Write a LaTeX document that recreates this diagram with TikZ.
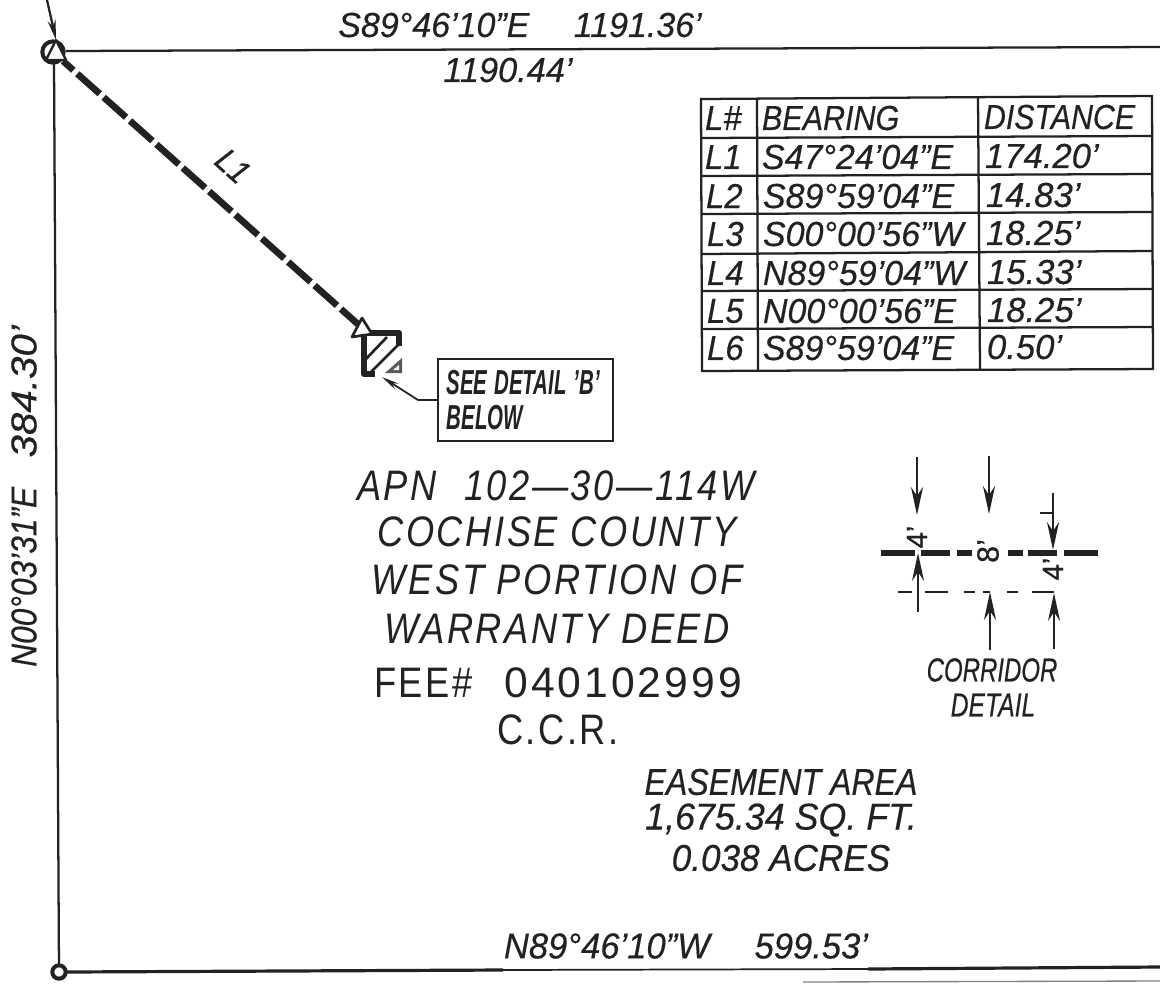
\documentclass[tikz,border=0pt]{standalone}
\usepackage{fontspec}
\setmainfont{Liberation Sans}
\usetikzlibrary{arrows.meta}
\definecolor{ink}{HTML}{222222}
\newcommand{\fs}[1]{\fontsize{#1}{#1}\selectfont}
\newcommand{\sx}[2]{\scalebox{#1}[1]{#2}}
\newcommand{\fb}{\addfontfeature{FakeBold=0.4}}
\tikzset{
  x=.75pt,y=-.75pt,
  txt/.style={inner sep=0pt,outer sep=0pt,text=ink,font=\fs{26}\itshape\fb},
  up/.style={txt,font=\fs{32}\addfontfeature{LetterSpace=7}},
  big/.style={txt,font=\fs{32}\itshape\addfontfeature{LetterSpace=7}},
  cell/.style={txt,anchor=west,font=\fs{26}\itshape\fb},
  thinl/.style={draw=ink,line width=1.7pt},
  rule/.style={draw=ink,line width=1.7pt},
  heavy/.style={draw=ink,line width=5pt,line cap=butt},
  dim/.style={draw=ink,line width=2pt,-{Stealth[length=21pt,width=9pt]}},
  hollow/.style={draw=ink,line width=2pt,fill=white,line join=round},
}
\begin{document}
\begin{tikzpicture}
\useasboundingbox[fill=white] (0,0) rectangle (1160,983);
% boundary
\coordinate (nw) at (53,52);
\coordinate (sw) at (59,972);
\coordinate (ne) at (1160,47);
\coordinate (se) at (1160,967);
\coordinate (mid1) at (503,970);
\coordinate (mid2) at (868,969);
\coordinate (tick0) at (47,0);
\coordinate (tip0) at (56,40);
\coordinate (g1) at (803,982);
\coordinate (g2) at (1160,981);
\draw[thinl] (54,61) -- (sw);
\draw[thinl] (66,51) -- (ne);
\draw[draw=ink,line width=2.4pt] (66,972) -- (mid1);
\draw[draw=ink,line width=1.3pt] (mid1) -- (mid2);
\draw[draw=ink,line width=2.4pt] (mid2) -- (se);
\draw[draw=gray,line width=1pt] (g1) -- (g2);
\draw[thinl,-{Stealth[length=15pt,width=6pt]}] (tick0) -- (tip0);
\node[circle,draw=ink,line width=3pt,fill=white,minimum size=16pt,inner sep=0pt] (pnw) at (53,52) {};
\node[circle,draw=ink,line width=3pt,fill=white,minimum size=10pt,inner sep=0pt] (psw) at (sw) {};
\draw[hollow,line width=1.8pt] (56,40) -- (46,60) -- (66,60) -- cycle;
% L1 dashed
\coordinate (l1a) at (63,61);
\coordinate (l1b) at (360,326);
\draw[draw=ink,line width=5pt,dash pattern=on 22.5pt off 4pt,dash phase=12.1pt] (l1a) -- (l1b);
\node[txt,rotate=-42,font=\fs{25}\itshape\fb] (l1lbl) at (233,166) {\sx{.9}{L1}};
% detail square
\draw[draw=ink,line width=4.5pt,line join=round] (375,374) -- (364,374) -- (364,333) -- (399,333) -- (399,346);
\draw[draw=ink,line width=2pt] (365,360) -- (387,337);
\draw[draw=ink,line width=2pt] (368,375) -- (398,345);
\fill[ink!75] (385,373) -- (402,358) -- (402,373) -- cycle;
\fill[white] (393,370) -- (399,365) -- (399,370) -- cycle;
\draw[hollow,line width=2pt] (362,318) -- (352,337) -- (372,334) -- cycle;
% callout
\node[draw=ink,line width=1.5pt,minimum width=131pt,minimum height=61.5pt,inner sep=0pt,
  align=left,text=ink,anchor=north west,text width=118pt,font=\fs{26}\itshape\bfseries] (see) at (437,358)
  {\sx{.59}{SEE DETAIL 'B'}\\\sx{.59}{BELOW}};
\coordinate (bend) at (418,400);
\draw[draw=ink,line width=1.3pt,-{Stealth[length=13pt,width=5pt]}] (see.west |- bend) -- (bend) -- (382,377);
% top/bottom/side texts
\node[txt] (t1) at (520,25) {\sx{.98}{S89°46'10"E\hspace{34pt}1191.36'}};
\node[txt] (t2) at (508,70) {\sx{.99}{1190.44'}};
\node[txt,font=\fs{27}\itshape\fb] (t3) at (686,946) {\sx{.96}{N89°46'10"W\hspace{35pt}599.53'}};
\node[txt,rotate=90,font=\fs{27}\itshape\fb] (t4) at (24,496) {\sx{.88}{N00°03'31"E}\hspace{22pt}\sx{1.12}{384.30'}};
% table
\coordinate (ta) at (701,99); \coordinate (tb) at (1152,96);
\coordinate (tc) at (1153,369); \coordinate (td) at (702,371);
\draw[rule] (ta) -- (tb) -- (tc) -- (td) -- cycle;
\foreach \ya/\yb in {138/136,176/174,214/212,254/251,291/289,329/327}{
  \draw[rule] (701,\ya) -- (1152,\yb);
}
\draw[rule] (757,98) -- (758,370);
\draw[rule] (978,97) -- (980,370);
\node[cell] (h1) at (705,118) {\sx{.95}{L\#}};
\node[cell] (h2) at (762,118) {\sx{.88}{BEARING}};
\node[cell] (h3) at (984,117) {\sx{.875}{DISTANCE}};
\node[cell] (a1) at (705,157) {\sx{.95}{L1}};
\node[cell] (b1) at (762,157) {\sx{.98}{S47°24'04"E}};
\node[cell] (c1) at (985,156) {\sx{1}{174.20'}};
\node[cell] (a2) at (706,196) {\sx{.95}{L2}};
\node[cell] (b2) at (763,196) {\sx{.98}{S89°59'04"E}};
\node[cell] (c2) at (986,195) {\sx{1}{14.83'}};
\node[cell] (a3) at (707,234) {\sx{.95}{L3}};
\node[cell] (b3) at (763,234) {\sx{.98}{S00°00'56"W}};
\node[cell] (c3) at (986,233) {\sx{1}{18.25'}};
\node[cell] (a4) at (707,273) {\sx{.95}{L4}};
\node[cell] (b4) at (763,273) {\sx{.98}{N89°59'04"W}};
\node[cell] (c4) at (987,272) {\sx{1}{15.33'}};
\node[cell] (a5) at (707,311) {\sx{.95}{L5}};
\node[cell] (b5) at (763,311) {\sx{.98}{N00°00'56"E}};
\node[cell] (c5) at (987,310) {\sx{1}{18.25'}};
\node[cell] (a6) at (707,348) {\sx{.95}{L6}};
\node[cell] (b6) at (763,348) {\sx{.98}{S89°59'04"E}};
\node[cell] (c6) at (987,347) {\sx{1}{0.50'}};
% main block
\node[big] (m1) at (556,486) {\sx{.85}{APN\hspace{13pt} 102—30—114W}};
\node[big] (m2) at (557,532) {\sx{.85}{COCHISE COUNTY}};
\node[big] (m3) at (557,580) {\sx{.85}{WEST PORTION OF}};
\node[big] (m4) at (557,629) {\sx{.85}{WARRANTY DEED}};
\node[up] (m6) at (558,683) {\sx{.85}{FEE\#}\hspace{24pt}\sx{1}{040102999}};
\node[up] (m7) at (558,730) {\sx{.85}{C.C.R.}};
\node[txt,font=\fs{28}\itshape\fb] (e1) at (781,782) {\sx{.86}{EASEMENT AREA}};
\node[txt,font=\fs{28}\itshape\fb] (e2) at (781,820) {\sx{.96}{1,675.34 SQ. FT.}};
\node[txt,font=\fs{28}\itshape\fb] (e3) at (781,858) {\sx{.94}{0.038 ACRES}};
% corridor detail
\foreach \xa/\xb in {881/915,921/950,957/972,1008/1023,1028/1057,1064/1098}{
  \draw[heavy] (\xa,553) -- (\xb,553);
}
\foreach \xa/\xb in {898/912,925/948,964/975,983/990,1007/1018,1032/1054}{
  \draw[draw=ink,line width=.8pt] (\xa,592) -- (\xb,592);
}
\coordinate (da1) at (917,457); \coordinate (da2) at (917,515);
\coordinate (db1) at (989,456); \coordinate (db2) at (989,514);
\coordinate (dc1) at (1053,493); \coordinate (dc2) at (1053,550);
\coordinate (dd1) at (918,612); \coordinate (dd2) at (918,553);
\coordinate (de1) at (990,650); \coordinate (de2) at (990,592);
\coordinate (df1) at (1054,649); \coordinate (df2) at (1054,593);
\draw[dim] (da1) -- (da2);
\draw[dim] (db1) -- (db2);
\draw[dim] (dc1) -- (dc2);
\draw[dim] (dd1) -- (dd2);
\draw[dim] (de1) -- (de2);
\draw[dim] (df1) -- (df2);
\coordinate (tk) at (1040,513);
\draw[draw=ink,line width=1pt] (tk) -- (dc1 |- tk);
\node[txt,rotate=90,font=\fs{22}\fb] (d4a) at (917,537) {4'};
\node[txt,rotate=90,font=\fs{23}\fb,fill=white] (d8) at (988,551) {8'};
\node[txt,rotate=90,font=\fs{22}\fb] (d4b) at (1053,569) {4'};
\node[txt,font=\fs{25}\itshape\fb] (cd1) at (992,670) {\sx{.72}{CORRIDOR}};
\node[txt,font=\fs{25}\itshape\fb] (cd2) at (993,705) {\sx{.74}{DETAIL}};
\end{tikzpicture}
\end{document}
